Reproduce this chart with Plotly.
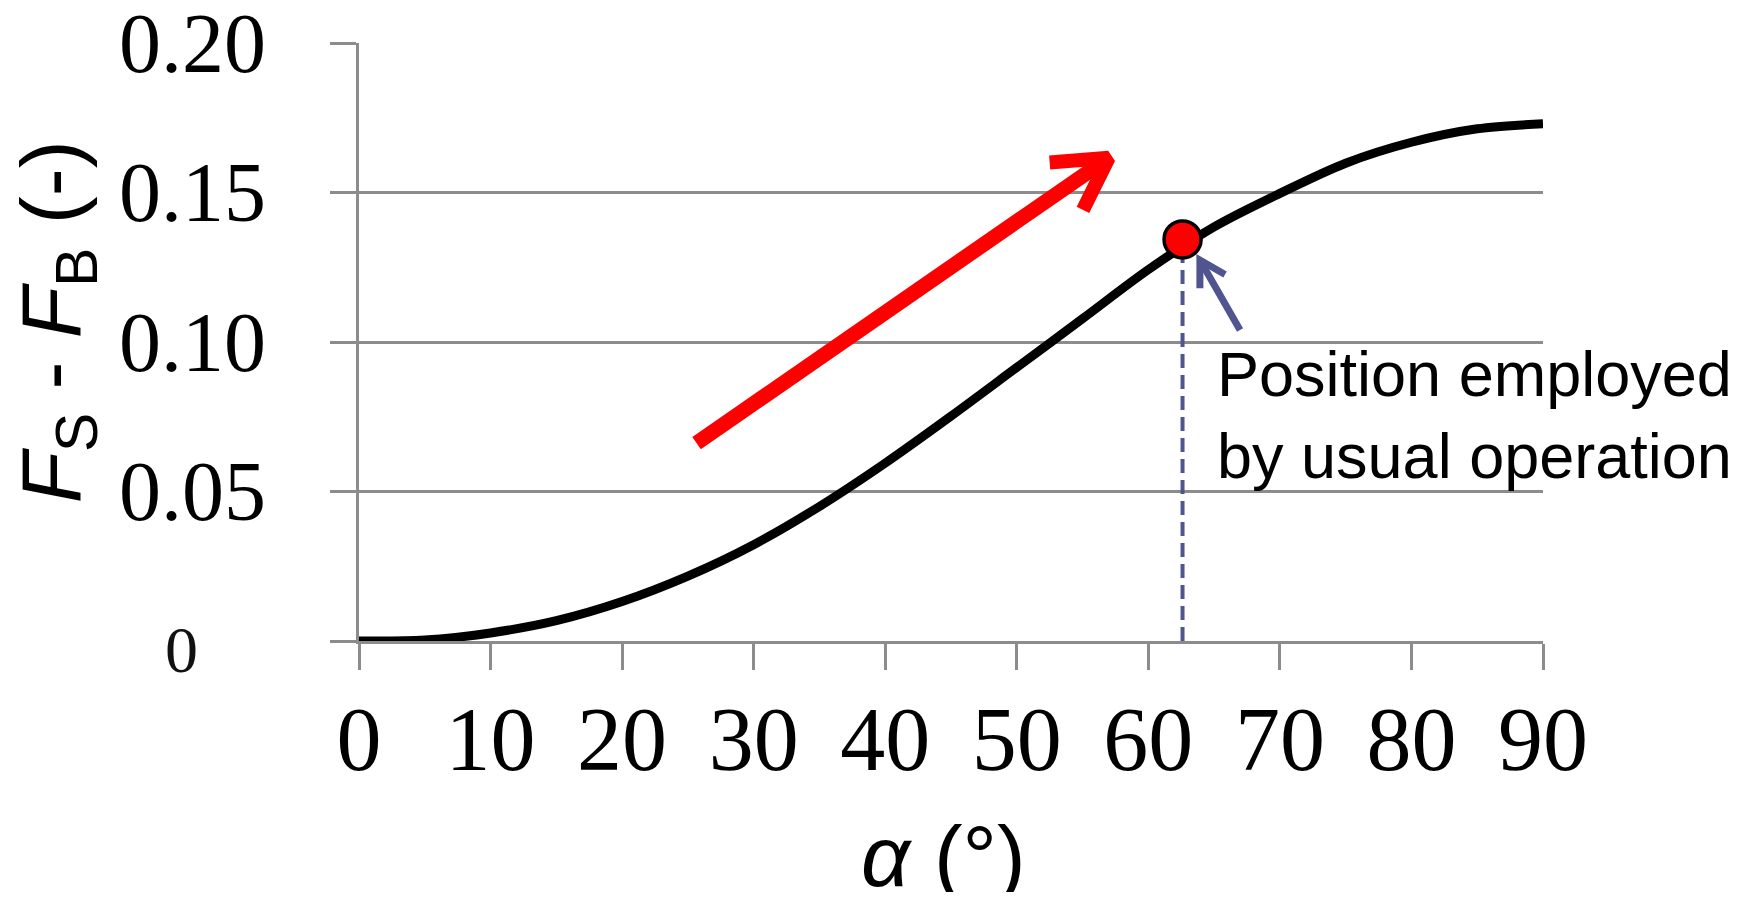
import plotly.graph_objects as go

# ---------------- data ----------------
ALPHA = [0, 5, 10, 15, 20, 25, 30, 35, 40, 45, 50, 55, 60, 65, 70, 75, 80, 85, 90]
DIFF = [0.0, 0.0003, 0.0027, 0.0068, 0.0132, 0.0217, 0.0322, 0.0450, 0.0595,
        0.0752, 0.0915, 0.1078, 0.1242, 0.1385, 0.1497, 0.1598, 0.1668, 0.1713, 0.1730]

OP_ALPHA = [62.6]      # position employed by usual operation
OP_DIFF = [0.1343]

X_TICKS = [0, 10, 20, 30, 40, 50, 60, 70, 80, 90]
X_TICK_TEXT = ["0", "10", "20", "30", "40", "50", "60", "70", "80", "90"]
Y_TICKS = [0, 0.05, 0.10, 0.15, 0.20]
Y_TICK_TEXT = ["0", "0.05", "0.10", "0.15", "0.20"]

X_TITLE = "<i>α</i> (°)"
Y_TITLE = "<i>F</i><sub>S</sub> - <i>F</i><sub>B</sub> (-)"
NOTE_TEXT = "Position employed<br>by usual operation"

# decorative arrows (data coordinates)
RED_SHAFT_X = [25.66, 56.99]
RED_SHAFT_Y = [0.0662, 0.1616]
RED_HEAD_X = [52.50, 56.99, 55.03]
RED_HEAD_Y = [0.1600, 0.1616, 0.1442]
BLUE_SHAFT_X = [66.97, 63.92]
BLUE_SHAFT_Y = [0.1040, 0.1274]
BLUE_HEAD_X = [63.92, 63.92, 65.83]
BLUE_HEAD_Y = [0.1180, 0.1274, 0.1226]

# ---------------- styles ----------------
GRID = "#8c8c8c"
BLUE = "#50558f"
SERIF = "Liberation Serif, Times New Roman, serif"
SANS = "Liberation Sans, Arial, sans-serif"

fig = go.Figure()

# dashed guide from the operating point down to the axis
fig.add_trace(go.Scatter(
    x=[OP_ALPHA[0], OP_ALPHA[0]], y=[0, OP_DIFF[0]], mode="lines",
    line=dict(color=BLUE, width=4, dash="14px,7px"), hoverinfo="skip", showlegend=False))

# main curve
fig.add_trace(go.Scatter(
    x=ALPHA, y=DIFF, mode="lines",
    line=dict(color="black", width=9, shape="spline", smoothing=0.9),
    cliponaxis=False, showlegend=False))

# red arrow
fig.add_trace(go.Scatter(x=RED_SHAFT_X, y=RED_SHAFT_Y, mode="lines",
                         line=dict(color="#ff0000", width=15), hoverinfo="skip", showlegend=False))
fig.add_trace(go.Scatter(x=RED_HEAD_X, y=RED_HEAD_Y, mode="lines",
                         line=dict(color="#ff0000", width=14), hoverinfo="skip", showlegend=False))

# blue arrow
fig.add_trace(go.Scatter(x=BLUE_SHAFT_X, y=BLUE_SHAFT_Y, mode="lines",
                         line=dict(color=BLUE, width=7), hoverinfo="skip", showlegend=False))
fig.add_trace(go.Scatter(x=BLUE_HEAD_X, y=BLUE_HEAD_Y, mode="lines",
                         line=dict(color=BLUE, width=7), hoverinfo="skip", showlegend=False))

# operating point marker
fig.add_trace(go.Scatter(
    x=OP_ALPHA, y=OP_DIFF, mode="markers",
    marker=dict(size=37, color="#ff0000", line=dict(color="black", width=3.5)),
    cliponaxis=False, showlegend=False))

annotations = []
# y tick labels
for v, t in zip(Y_TICKS, Y_TICK_TEXT):
    if v == 0:
        annotations.append(dict(x=-0.1497, xref="paper", y=v, yref="y", yshift=-8,
                                text=t, showarrow=False, xanchor="center", yanchor="middle",
                                font=dict(family=SERIF, size=66, color="#111111")))
    else:
        annotations.append(dict(x=-0.0767, xref="paper", y=v, yref="y",
                                text=t, showarrow=False, xanchor="right", yanchor="middle",
                                font=dict(family=SERIF, size=84, color="black")))
# axis titles
annotations.append(dict(x=-0.255, xref="paper", y=0.533, yref="paper", text=Y_TITLE,
                        textangle=-90, showarrow=False, xanchor="center", yanchor="middle",
                        font=dict(family=SANS, size=84, color="black")))
annotations.append(dict(x=0.4935, xref="paper", y=-0.36, yref="paper", text=X_TITLE,
                        showarrow=False, xanchor="center", yanchor="middle",
                        font=dict(family=SANS, size=86, color="black")))
# note
annotations.append(dict(x=65.05, xref="x", y=0.1018, yref="y", text=NOTE_TEXT,
                        showarrow=False, xanchor="left", yanchor="top", align="left",
                        font=dict(family=SANS, size=63, color="black")))

# page body has an 8px margin: shrink the figure so it fits the 1752x900 window exactly
fig.update_layout(
    width=1736, height=884,
    margin=dict(l=351, r=201, t=35, b=251, pad=0),
    paper_bgcolor="white", plot_bgcolor="white",
    showlegend=False,
    annotations=annotations,
    xaxis=dict(range=[0, 90], tickmode="array", tickvals=X_TICKS, ticktext=X_TICK_TEXT,
               showgrid=False, zeroline=False, showline=True, linecolor=GRID, linewidth=3,
               ticks="outside", ticklen=26, tickwidth=3, tickcolor=GRID,
               tickfont=dict(family=SERIF, size=90, color="black"),
               ticklabelstandoff=-8, layer="below traces"),
    yaxis=dict(range=[0, 0.2], tickmode="array", tickvals=Y_TICKS,
               showticklabels=False,
               showgrid=True, gridcolor=GRID, gridwidth=3,
               zeroline=False, showline=True, linecolor=GRID, linewidth=3,
               ticks="outside", ticklen=26, tickwidth=3, tickcolor=GRID,
               layer="below traces"),
)

fig.write_html("out.html")
